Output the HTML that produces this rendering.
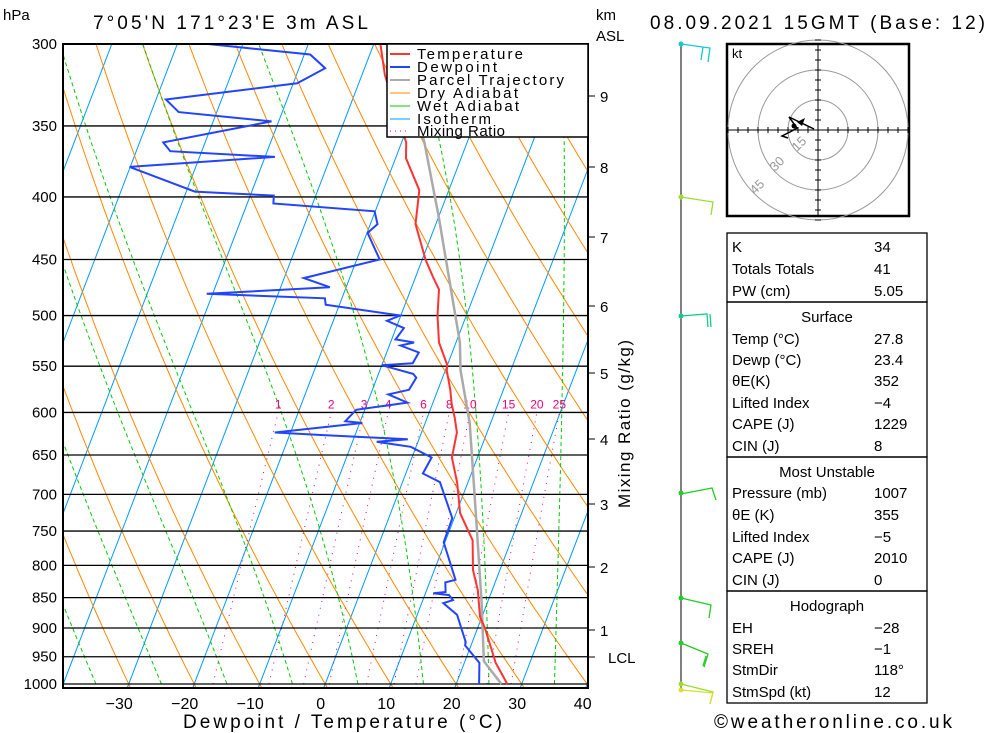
<!DOCTYPE html>
<html><head><meta charset="utf-8"><style>
body{margin:0;background:#fff;}
svg{display:block;font-family:"Liberation Sans",sans-serif;}
</style></head><body>
<svg id="c" width="1000" height="733" viewBox="0 0 1000 733" xmlns="http://www.w3.org/2000/svg">
<defs><clipPath id="pc"><rect x="63" y="44" width="525" height="644"/></clipPath></defs>
<g id="bg" clip-path="url(#pc)"></g>
<g id="plines"></g>
<g id="series" clip-path="url(#pc)"></g>
<rect x="63" y="44" width="525" height="644" fill="none" stroke="#000" stroke-width="2"/>
<g id="axes"></g>
<text x="3" y="20" font-size="15">hPa</text>
<text x="93" y="29" font-size="19" textLength="275" lengthAdjust="spacing">7°05'N 171°23'E 3m ASL</text>
<text x="596" y="20" font-size="15">km</text>
<text x="596" y="41" font-size="15">ASL</text>
<text x="650" y="29" font-size="19" textLength="335" lengthAdjust="spacing">08.09.2021 15GMT (Base: 12)</text>
<text x="183" y="728" font-size="19" textLength="319" lengthAdjust="spacing">Dewpoint / Temperature (°C)</text>
<text transform="translate(630,508) rotate(-90)" font-size="17" textLength="168" lengthAdjust="spacing">Mixing Ratio (g/kg)</text>
<g>
<rect x="387" y="44" width="201" height="93" fill="#fff" stroke="#000" stroke-width="1.5"/>
<line x1="390" y1="54" x2="410" y2="54" stroke="#f33" stroke-width="2"/><text x="417" y="59" font-size="15" textLength="106" lengthAdjust="spacing">Temperature</text>
<line x1="390" y1="67" x2="410" y2="67" stroke="#24f" stroke-width="2"/><text x="417" y="72" font-size="15" textLength="80" lengthAdjust="spacing">Dewpoint</text>
<line x1="390" y1="80" x2="410" y2="80" stroke="#aaa" stroke-width="2"/><text x="417" y="85" font-size="15" textLength="147" lengthAdjust="spacing">Parcel Trajectory</text>
<line x1="390" y1="93" x2="410" y2="93" stroke="#f80" stroke-width="1"/><text x="417" y="98" font-size="15" textLength="101" lengthAdjust="spacing">Dry Adiabat</text>
<line x1="390" y1="106" x2="410" y2="106" stroke="#0c0" stroke-width="1"/><text x="417" y="111" font-size="15" textLength="102" lengthAdjust="spacing">Wet Adiabat</text>
<line x1="390" y1="119" x2="410" y2="119" stroke="#09f" stroke-width="1"/><text x="417" y="124" font-size="15" textLength="74" lengthAdjust="spacing">Isotherm</text>
<line x1="390" y1="131" x2="410" y2="131" stroke="#e07" stroke-width="1" stroke-dasharray="1,4"/><text x="417" y="136" font-size="15" textLength="88" lengthAdjust="spacing">Mixing Ratio</text>
</g>
<g id="wind"></g>
<g id="hodo"></g>
<g id="tables"></g>
<text x="714" y="728" font-size="19" textLength="238" lengthAdjust="spacing">©weatheronline.co.uk</text>
</svg>
<script>
const tempP=[300,318,361,372,395,406,421,450,466,476,500,526,549,554,575,590,606,623,653,685,725,763,807,838,881,900,961,1000];
const tempT=[-29,-26.5,-19.3,-18.4,-14.5,-13.9,-13.1,-9.5,-7.2,-5.7,-4.4,-2.6,0,0.2,1.9,2.9,4.2,5.4,6.1,8.4,10.6,14.1,15.9,17.8,19.7,21.1,24.8,27.8];
const dewP=[300,306,314,323,333,341,347,361,367,371,378,396,399,405,411,421,428,450,466,474,480,484,490,500,505,512,523,526,529,536,547,549,558,562,575,580,589,597,610,612,623,626,631,634,640,653,673,684,732,766,822,826,841,843,846,854,859,878,924,930,961,1000];
const dewT=[-55.3,-39.1,-36,-39.4,-58.5,-55.8,-41.1,-56.4,-54.8,-38.5,-60.1,-48.7,-36.4,-36,-20.1,-18.9,-19.9,-16.5,-27,-22.5,-40.9,-22.6,-22.1,-10.1,-11.8,-8.8,-9.4,-6.4,-8.3,-5.1,-5.4,-10,-4.7,-4,-4.4,-7.3,-3.9,-11.3,-12.3,-9.6,-22.4,-15.2,-1.7,-6.3,-0.8,3,2.6,5.7,9.7,9.8,13.8,12.4,13,11.2,13.7,14.6,13.3,16.1,19,19.1,22.3,23.5];
const parcelP=[1000,958,855,725,612,554,526,416,362,300];
const parcelT=[26.9,22.9,19.0,13.0,6.8,2.3,0.6,-9.9,-16.4,-26];
const xTicks=[-30,-20,-10,0,10,20,30,40];
const pLevels=[300,350,400,450,500,550,600,650,700,750,800,850,900,950,1000];
const kmTicks=[9,8,7,6,5,4,3,2,1];
const kmY=[96,167,237,306,373,439,504,567,630];
const mixW=[1,2,3,4,6,8,10,15,20,25];
const NS="http://www.w3.org/2000/svg";
const Y=p=>44+640*Math.log(p/300)/Math.log(10/3);
const X=(T,p)=>325.2+6.55*T+0.383*(684-Y(p));
function mk(par,tag,at){const e=document.createElementNS(NS,tag);for(const k in at)e.setAttribute(k,at[k]);par.appendChild(e);return e;}
function poly(par,pts,st,w,dash,name){const e=mk(par,'polyline',{points:pts.map(a=>a[0].toFixed(1)+','+a[1].toFixed(1)).join(' '),fill:'none',stroke:st,'stroke-width':w});if(dash)e.setAttribute('stroke-dasharray',dash);

return e;}
const bg=document.getElementById('bg');
for(let T=-110;T<=40;T+=10){poly(bg,[[X(T,1050),Y(1050)],[X(T,290),Y(290)]],'#09f',1,null,'isotherm');}
for(let th=-30;th<=160;th+=10){const pts=[];for(let p=1050;p>=290;p-=10){const T=(th+273.15)*Math.pow(p/1000,0.2857)-273.15;pts.push([X(T,p),Y(p)]);}poly(bg,pts,'#f80',1,null,'dry-adiabat');}
function es(T){return 6.112*Math.exp(17.67*T/(T+243.5));}
for(let T0=-45;T0<=45;T0+=10){let T=T0+273.15;const pts=[];for(let p=1000;p>=290;p-=5){pts.push([X(T-273.15,p),Y(p)]);const e=es(T-273.15);const rs=0.622*e/(p-e);const Lv=2.5e6,Rd=287,cp=1004;const dTdp=(Rd*T+Lv*rs)/(p*(cp+Lv*Lv*rs*0.622/(Rd*T*T)));T-=dTdp*5;}poly(bg,pts,'#0c0',1,'4,3','wet-adiabat');}
for(const w of mixW){const pts=[];for(let p=1000;p>=600;p-=10){const e=w*p/(622+w);const l=Math.log(e/6.112);const Td=243.5*l/(17.67-l);pts.push([X(Td,p),Y(p)]);}poly(bg,pts,'#e07',1,'1,6','mixing-ratio-line');
const e=w*600/(622+w);const l=Math.log(e/6.112);const Td=243.5*l/(17.67-l);const t=mk(bg,'text',{x:X(Td,600),y:Y(600)-4,'font-size':12,fill:'#e07','text-anchor':'middle'});t.textContent=w;

}
const pl=document.getElementById('plines'),ax=document.getElementById('axes');
for(const p of pLevels){const l=mk(pl,'line',{x1:63,x2:588,y1:Y(p),y2:Y(p),stroke:'#000','stroke-width':1.3});


const t=mk(ax,'text',{x:57,y:Y(p)+5,'font-size':15,'text-anchor':'end'});t.textContent=p;

}
for(const T of xTicks){const t=mk(ax,'text',{x:320.7+6.55*T-(T<0?5:0),y:709,'font-size':16,'text-anchor':'middle'});t.textContent=(T<0?'−':'')+Math.abs(T);

}
kmTicks.forEach((k,i)=>{const l=mk(ax,'line',{x1:588,x2:595,y1:kmY[i],y2:kmY[i],stroke:'#000'});


const t=mk(ax,'text',{x:600,y:kmY[i]+6,'font-size':15});t.textContent=k;

});
{const l=mk(ax,'line',{x1:588,x2:595,y1:657,y2:657,stroke:'#000'});
const t=mk(ax,'text',{x:608,y:663,'font-size':15});t.textContent='LCL';}
const sr=document.getElementById('series');
poly(sr,parcelP.map((p,i)=>[X(parcelT[i],p),Y(p)]),'#aaa',2.5,null,'parcel-trajectory');
poly(sr,tempP.map((p,i)=>[X(tempT[i],p),Y(p)]),'#f33',2,null,'temperature-line');
poly(sr,dewP.map((p,i)=>[X(dewT[i],p),Y(p)]),'#24f',2,null,'dewpoint-line');
const wd=document.getElementById('wind');
{const l=mk(wd,'line',{x1:681,x2:681,y1:44,y2:690,stroke:'#000'});}
const barbs=[[44,'#1cc',[[681,44],[710,48],[708,62]],[[703,47],[701,60]]],[197,'#9d3',[[681,197],[713,202],[711,215]],[]],[316,'#1c8',[[681,316],[707,314],[708,327]],[[710,314],[711,327]]],[493,'#2c2',[[681,494],[712,488],[716,500]],[]],[598,'#2c2',[[681,598],[711,605],[709,618]],[]],[643,'#2c2',[[681,643],[708,654],[704,667]],[[706,656],[703,666]]],[684,'#9d3',[[681,684],[713,692],[710,704]],[]],[690,'#dd3',[[681,690],[713,693],[710,704]],[]]];
for(const b of barbs){poly(wd,b[2],b[1],1.3,null,'wind-barb');if(b[3].length)poly(wd,b[3],b[1],1.3,null,'wind-barb-flag');const c=mk(wd,'circle',{cx:681,cy:b[0],r:2.5,fill:b[1]});}
const hd=document.getElementById('hodo');
mk(hd,'rect',{x:727,y:44,width:182,height:172,fill:'#fff',stroke:'#000','stroke-width':2.5});
for(const r of [30,60,90]){mk(hd,'circle',{cx:818,cy:130,r:r,fill:'none',stroke:'#999'});}
mk(hd,'line',{x1:727,x2:909,y1:130,y2:130,stroke:'#000'});mk(hd,'line',{x1:818,x2:818,y1:44,y2:216,stroke:'#000'});
for(let i=-9;i<=9;i++){if(!i)continue;mk(hd,'line',{x1:818+i*10,x2:818+i*10,y1:127,y2:133,stroke:'#000'});mk(hd,'line',{x1:815,x2:821,y1:130+i*10,y2:130+i*10,stroke:'#000'});}
[['15',797,152],['30',775,172],['45',755,195]].forEach(a=>{const t=mk(hd,'text',{x:a[1],y:a[2],'font-size':13,fill:'#999',transform:`rotate(-45 ${a[1]} ${a[2]})`});t.textContent=a[0];});
{const t=mk(hd,'text',{x:732,y:58,'font-size':13});t.textContent='kt';}
poly(hd,[[814,129],[789,117],[797,128],[790,132],[782,136],[788,138]],'#000',1.5,null,'hodograph-trace');
mk(hd,'circle',{cx:794,cy:126,r:2.5,fill:'#000'});mk(hd,'polygon',{points:'797,122 805,118 802,126',fill:'#000'});
const tb=document.getElementById('tables');
[[233,302],[302,457],[457,591],[591,703]].forEach(b=>{const r=mk(tb,'rect',{x:727,y:b[0],width:200,height:b[1]-b[0],fill:'none',stroke:'#000','stroke-width':1.3});});
const rows=[['K','34',246],['Totals Totals','41',268],['PW (cm)','5.05',290],['#Surface','',316],['Temp (°C)','27.8',338],['Dewp (°C)','23.4',359],['θE(K)','352',380],['Lifted Index','−4',402],['CAPE (J)','1229',423],['CIN (J)','8',445],['#Most Unstable','',471],['Pressure (mb)','1007',492],['θE (K)','355',514],['Lifted Index','−5',536],['CAPE (J)','2010',557],['CIN (J)','0',579],['#Hodograph','',605],['EH','−28',627],['SREH','−1',648],['StmDir','118°',669],['StmSpd (kt)','12',691]];
for(const r of rows){if(r[0][0]=='#'){const t=mk(tb,'text',{x:827,y:r[2]+6,'font-size':15,'text-anchor':'middle'});t.textContent=r[0].slice(1);continue;}
const a=mk(tb,'text',{x:732,y:r[2]+6,'font-size':15});a.textContent=r[0];
const b=mk(tb,'text',{x:874,y:r[2]+6,'font-size':15});b.textContent=r[1];}
</script>
</body></html>
